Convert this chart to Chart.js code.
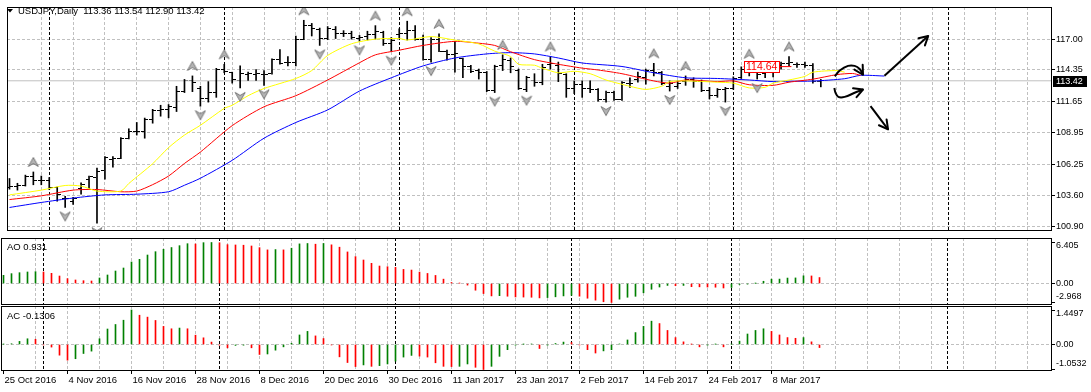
<!DOCTYPE html>
<html>
<head>
<meta charset="utf-8">
<script src="https://cdn.jsdelivr.net/npm/chart.js"></script>
<style>
  html, body { margin: 0; padding: 0; background: #fff; }
  #wrap { position: relative; width: 1091px; height: 392px; overflow: hidden; }
  canvas { position: absolute; left: 0; }
</style>
</head>
<body>
<div id="wrap">
  <canvas id="price" width="1091" height="238" style="top:0px"></canvas>
  <canvas id="ao" width="1091" height="68" style="top:238px"></canvas>
  <canvas id="ac" width="1091" height="86" style="top:306px"></canvas>
</div>
<script>
// values (bar index 0 = 25 Oct 2016)
const symbol = 'USDJPY,Daily';
const dateLabels = ['25 Oct 2016', '4 Nov 2016', '16 Nov 2016', '28 Nov 2016', '8 Dec 2016', '20 Dec 2016',
  '30 Dec 2016', '11 Jan 2017', '23 Jan 2017', '2 Feb 2017', '14 Feb 2017', '24 Feb 2017', '8 Mar 2017'];
const dateIdx = [0, 8, 16, 24, 32, 40, 48, 56, 64, 72, 80, 88, 96];
const separators = [5, 27, 49, 71, 91, 118];

const opens = [104.24,104.38,104.43,105.24,104.84,104.89,104.22,103.27,103.08,104.16,
  104.97,105.11,105.70,106.68,106.78,108.49,109.08,109.03,110.11,110.86,
  110.92,111.14,112.49,113.41,112.76,111.86,112.41,114.38,114.11,113.41,
  113.95,114.00,113.95,114.03,115.24,114.97,114.97,117.00,118.16,117.81,
  117.05,117.81,117.46,117.46,117.08,117.19,117.41,117.59,116.65,117.41,
  117.46,117.73,117.00,115.24,117.00,115.92,115.65,115.30,114.65,114.30,
  114.16,112.59,114.70,115.19,114.30,112.68,113.41,113.30,114.84,114.76,
  113.95,112.76,113.08,112.76,112.68,111.78,112.41,111.78,113.22,113.57,
  113.68,114.30,114.11,112.95,112.95,113.35,113.49,113.35,112.59,112.14,
  112.68,112.76,113.68,114.43,114.11,114.03,114.16,114.70,114.89,114.84,
  114.81,114.76,113.36];
const highs = [105.03,104.62,105.32,105.59,105.24,105.11,104.30,103.49,103.41,104.65,
  105.24,105.92,106.92,106.92,108.54,109.30,109.84,110.22,110.97,111.32,
  111.38,112.95,113.54,113.84,112.95,113.35,114.49,114.84,114.16,114.70,
  114.16,114.38,114.30,115.30,116.11,115.51,117.27,118.62,118.35,117.95,
  118.08,118.08,117.73,117.68,117.32,117.68,118.16,117.68,117.14,117.89,
  118.54,118.16,117.35,117.14,117.46,116.05,116.81,115.38,114.76,114.43,
  114.22,114.76,115.65,115.38,114.43,113.81,114.03,114.84,115.51,115.03,
  114.03,113.41,113.41,113.41,112.76,112.54,112.54,113.35,113.68,114.16,
  114.43,114.92,114.22,113.41,113.41,113.84,113.68,113.49,112.86,112.76,
  112.86,113.76,114.62,114.89,114.30,114.30,114.84,115.03,115.51,114.97,
  115.03,114.89,113.54];
const lows = [104.11,104.03,104.38,104.49,104.49,104.08,103.08,102.54,102.81,103.68,
  104.11,101.19,104.97,106.00,106.73,108.43,108.76,108.49,109.78,110.38,
  110.24,110.78,112.41,112.49,111.24,111.59,112.00,114.11,113.22,112.81,
  113.46,113.46,113.03,114.00,114.84,114.70,114.70,116.95,117.27,116.46,
  116.95,117.05,117.22,117.00,116.81,116.92,117.00,116.46,115.92,117.08,
  116.92,116.92,115.19,115.03,115.92,115.19,114.16,113.68,114.11,113.57,
  112.49,112.41,114.30,114.11,112.68,112.49,112.95,113.08,114.43,113.35,
  112.00,112.32,112.00,112.41,111.68,111.59,111.73,111.73,112.86,113.30,
  113.14,113.84,113.08,112.54,112.76,113.03,112.86,112.49,111.86,112.00,
  111.59,112.68,113.62,113.84,113.57,113.68,113.76,114.43,114.70,114.57,
  114.57,113.22,112.90];
const closes = [104.30,104.43,105.24,104.84,104.89,104.22,103.62,103.30,103.30,104.51,
  105.16,105.65,106.81,106.73,108.43,109.08,109.03,110.11,110.86,110.92,
  111.19,112.49,113.41,113.27,111.86,112.41,114.38,114.24,113.49,114.03,
  114.03,114.05,114.00,115.24,114.92,115.03,117.00,118.16,117.89,117.05,
  117.89,117.46,117.49,117.14,117.14,117.41,117.62,116.65,116.86,117.46,
  117.73,117.00,115.24,117.00,115.97,115.65,115.73,114.65,114.22,114.16,
  112.59,114.65,115.24,114.65,112.76,113.68,113.30,114.57,114.92,114.03,
  112.76,113.08,112.76,112.68,111.78,112.41,111.78,113.27,113.22,113.76,
  114.30,114.11,113.22,113.22,113.22,113.57,113.35,112.59,112.14,112.68,
  112.76,113.62,114.43,114.11,113.95,114.16,114.70,114.89,114.97,114.84,
  114.76,113.35,113.42];

const fractalsUp = [3, 23, 27, 37, 46, 50, 54, 62, 68, 81, 85, 93, 98];
const fractalsDown = [7, 11, 24, 29, 32, 39, 44, 48, 53, 61, 65, 75, 83, 90, 94];

// alligator lines (sampled along the curves)
const jawIdx = [0,4,8,12,16,20,22,24,28,32,36,40,44,48,52,56,60,63,66,69,72,77,81,85,89,93,96,98,101,105,107,110];
const jawVal = [102.54,102.97,103.35,103.62,103.68,103.89,104.45,105.05,106.59,108.49,109.84,110.92,112.54,113.68,114.70,115.38,
  115.73,115.84,115.73,115.38,114.95,114.65,114.11,113.68,113.62,113.49,113.35,113.38,113.40,113.60,113.89,113.83];
const teethIdx = [0,4,8,11,14,16,18,20,22,24,28,32,36,40,44,46,49,52,56,59,61,63,66,69,72,74,77,81,83,85,89,91,93,96,98,101,104,106,107];
const teethVal = [103.22,103.54,104.03,104.08,103.89,103.95,104.50,105.24,106.32,107.30,109.57,111.19,112.14,113.49,114.97,115.65,
  116.05,116.46,116.81,116.65,116.46,115.92,115.24,114.84,114.51,114.35,114.03,113.41,113.22,113.49,113.35,113.41,113.08,113.03,
  113.30,113.56,113.95,114.05,113.89];
const lipsIdx = [0,4,7,9,11,14,15,18,20,22,24,27,28,30,32,36,38,40,43,46,49,50,53,56,59,61,63,64,66,67,69,71,73,75,78,80,82,83,85,89,91,93,95,96,98,100,101,104,105];
const lipsVal = [103.62,104.03,104.43,104.38,103.95,103.95,104.60,106.30,107.68,108.76,109.60,111.05,111.32,112.14,112.76,113.62,
  114.30,115.60,116.60,117.00,117.05,116.92,117.22,116.92,116.59,115.97,115.51,114.84,114.76,114.50,114.11,114.24,114.03,113.49,
  112.95,112.68,112.95,113.35,113.41,113.30,113.22,112.81,112.86,113.22,113.49,113.80,114.16,114.30,114.16];

const ao = [1.28,1.54,1.69,1.80,1.85,1.80,1.59,1.17,0.76,0.55,
  0.44,0.39,0.86,1.33,1.95,2.42,3.36,3.78,4.45,4.97,
  5.34,5.62,5.91,6.22,6.17,6.38,6.405,6.37,6.07,6.02,
  5.98,5.86,5.60,5.25,5.30,5.25,5.51,6.19,6.25,6.14,
  6.25,6.04,5.67,4.93,4.20,3.67,3.15,2.73,2.62,2.52,
  2.20,2.10,1.78,1.57,1.26,0.68,0.16,0.05,-0.25,-1.05,
  -1.57,-1.94,-1.90,-1.99,-2.10,-2.12,-2.15,-2.25,-2.20,-2.08,
  -1.94,-1.85,-1.98,-2.30,-2.60,-2.85,-2.968,-2.45,-2.15,-2.00,
  -1.45,-0.90,-0.55,-0.30,-0.35,-0.30,-0.50,-0.52,-0.55,-0.58,
  -0.70,-0.62,-0.15,-0.10,0.02,0.35,0.67,0.69,0.85,0.87,
  1.20,1.18,0.931];
const ac = [0.01,0.03,0.13,0.24,0.22,-0.02,-0.11,-0.45,-0.66,-0.60,
  -0.38,-0.28,0.24,0.65,0.84,1.02,1.4497,1.23,1.15,1.01,
  0.76,0.66,0.69,0.66,0.39,0.28,0.10,-0.03,-0.14,-0.04,
  -0.03,-0.14,-0.42,-0.40,-0.24,-0.10,0.05,0.40,0.55,0.36,
  0.25,-0.02,-0.52,-0.76,-0.93,-0.86,-0.92,-0.89,-0.82,-0.70,
  -0.53,-0.46,-0.49,-0.53,-0.77,-0.92,-0.93,-0.92,-0.82,-0.96,
  -1.0532,-0.92,-0.50,-0.22,-0.03,0.01,0.02,-0.17,-0.03,0.04,
  0.10,0.08,-0.02,-0.22,-0.36,-0.27,-0.22,0.02,0.19,0.50,
  0.76,0.98,0.88,0.59,0.29,0.11,0.01,-0.10,-0.03,0.01,
  -0.10,0.01,0.14,0.44,0.59,0.66,0.55,0.40,0.29,0.26,
  0.29,0.11,-0.1306];

const priceTicks = [117.00, 114.35, 111.65, 108.95, 106.25, 103.60, 100.90];
const aoTicks = [6.405, 0, -2.968];
const aoTickLabels = ['6.405', '0.00', '-2.968'];
const acTicks = [1.4497, 0, -1.0532];
const acTickLabels = ['1.4497', '0.00', '-1.0532'];

// hand drawn objects on the chart, in bar index / price units
const trendUpIdx = [110, 115.5], trendUpPrice = [113.86, 117.27];
const trendDownIdx = [108.25, 110.45], trendDownPrice = [111.24, 109.25];
const curveHiIdx = [103.75, 104.38, 105.42, 106.25, 106.88, 107.3];
const curveHiPrice = [113.81, 114.30, 114.70, 114.70, 114.43, 113.94];
const curveLoIdx = [103.7, 103.85, 104.2, 105.0, 106.25, 107.3];
const curveLoPrice = [112.80, 112.39, 112.04, 112.04, 112.39, 112.67];
const levelIdx = [92.3, 98.3], levelPrice = 114.64;

// ---- look ----
const FONT = "'Liberation Sans', Arial, sans-serif";
Chart.defaults.font.family = FONT;
Chart.defaults.font.size = 9;
Chart.defaults.color = '#000';
Chart.defaults.animation = false;

const gridColor = '#c0c0c0';
const green = '#008000', red = '#ff0000';
const xMin = -0.3125, xMax = 131.0625;
const last = closes.length - 1;
const none = 'rgba(0,0,0,0)';

const pairs = (xs, ys) => xs.map((x, k) => ({ x, y: Array.isArray(ys) ? ys[k] : ys }));
const upDownColors = vals => vals.map((v, i) => (i === 0 || v > vals[i - 1]) ? green : red);

function xScale(showLabels) {
  const ticks = [];
  if (showLabels) ticks.push(0);
  for (let v = 4; v < xMax; v += 4) ticks.push(v);
  return {
    type: 'linear', min: xMin, max: xMax, offset: false,
    afterBuildTicks: s => { s.ticks = ticks.map(v => ({ value: v })); },
    afterFit: s => { s.height = showLabels ? 21 : 0; },
    grid: {
      offset: false,
      color: c => (c.tick && c.tick.value > 0) ? gridColor : none,
      drawTicks: showLabels, tickLength: 3,
      tickColor: c => (c.tick && dateIdx.includes(c.tick.value)) ? '#000' : none
    },
    border: { display: false, dash: [3, 2] },
    ticks: {
      display: showLabels, autoSkip: false, maxRotation: 0, minRotation: 0,
      align: 'start', padding: 1, labelOffset: 1, font: { size: 9.5 },
      callback: v => { const k = dateIdx.indexOf(v); return k >= 0 ? dateLabels[k] : ''; }
    }
  };
}

function sideScale(min, max, tickVals) {
  return {
    position: 'right', min, max,
    afterBuildTicks: s => { s.ticks = tickVals.map(v => ({ value: v })); },
    afterFit: s => { s.width = 39; },
    grid: { color: c => (c.tick && c.tick.value === 0) ? gridColor : none, tickLength: 3, tickColor: '#000' },
    border: { display: false, dash: [3, 2] },
    ticks: { display: false }
  };
}

// ---- plugins ----
const frame = {
  id: 'frame',
  afterDraw(chart) {
    const { ctx, chartArea: a } = chart;
    ctx.save();
    ctx.strokeStyle = '#000';
    ctx.lineWidth = 1;
    ctx.strokeRect(a.left + 0.5, a.top + 0.5, a.right - a.left - 1, a.bottom - a.top - 1);
    ctx.restore();
  }
};

const periodSeparators = {
  id: 'periodSeparators',
  beforeDatasetsDraw(chart) {
    const { ctx, chartArea: a, scales: { x } } = chart;
    ctx.save();
    ctx.strokeStyle = '#000';
    ctx.lineWidth = 1;
    ctx.setLineDash([3, 2]);
    separators.forEach(i => {
      const px = Math.floor(x.getPixelForValue(i)) + 0.5;
      ctx.beginPath();
      ctx.moveTo(px, a.top);
      ctx.lineTo(px, a.bottom);
      ctx.stroke();
    });
    ctx.restore();
  }
};

const panelTitle = {
  id: 'panelTitle',
  afterDraw(chart, args, opts) {
    const ctx = chart.ctx;
    ctx.save();
    ctx.fillStyle = '#000';
    if (opts.marker) {
      ctx.beginPath();
      ctx.moveTo(7, 9); ctx.lineTo(13, 9); ctx.lineTo(10, 12.5); ctx.closePath();
      ctx.fill();
    }
    ctx.font = '9.5px ' + FONT;
    ctx.textBaseline = 'middle';
    ctx.fillText(opts.text, opts.x, opts.y);
    ctx.restore();
  }
};

const sideLabels = {
  id: 'sideLabels',
  afterDraw(chart, args, opts) {
    const { ctx, chartArea: a, scales: { y } } = chart;
    const shift = [3.5, 0, -6];
    ctx.save();
    ctx.fillStyle = '#000';
    ctx.font = '9px ' + FONT;
    ctx.textBaseline = 'middle';
    opts.values.forEach((v, k) => ctx.fillText(opts.texts[k], a.right + 4, y.getPixelForValue(v) + shift[k]));
    ctx.restore();
  }
};

// open / close ticks of the bar chart
const ohlcTicks = {
  id: 'ohlcTicks',
  beforeDatasetsDraw(chart) {
    const { ctx, chartArea: a, scales: { x, y } } = chart;
    ctx.save();
    ctx.beginPath();
    ctx.rect(a.left, a.top, a.right - a.left, a.bottom - a.top);
    ctx.clip();
    ctx.fillStyle = '#000';
    opens.forEach((o, i) => {
      const px = Math.floor(x.getPixelForValue(i));
      ctx.fillRect(px - 3, Math.floor(y.getPixelForValue(o)), 3, 1);
      ctx.fillRect(px + 1, Math.floor(y.getPixelForValue(closes[i])), 3, 1);
    });
    ctx.restore();
  }
};

const arrowHeads = {
  id: 'arrowHeads',
  afterDatasetsDraw(chart) {
    const ctx = chart.ctx;
    chart.data.datasets.forEach((ds, k) => {
      if (!ds.arrowHead) return;
      const pts = chart.getDatasetMeta(k).data;
      const p = pts[pts.length - 2], q = pts[pts.length - 1];
      const ang = Math.atan2(q.y - p.y, q.x - p.x);
      ctx.save();
      ctx.strokeStyle = '#000';
      ctx.lineWidth = 2;
      ctx.lineCap = 'round';
      ctx.beginPath();
      [-0.5, 0.5].forEach(d => {
        ctx.moveTo(q.x, q.y);
        ctx.lineTo(q.x - 10 * Math.cos(ang + d), q.y - 10 * Math.sin(ang + d));
      });
      ctx.stroke();
      ctx.restore();
    });
  }
};

const levelLabel = {
  id: 'levelLabel',
  afterDatasetsDraw(chart) {
    const { ctx, scales: { x, y } } = chart;
    const px = Math.round(x.getPixelForValue(levelIdx[0]));
    const py = Math.round(y.getPixelForValue(levelPrice));
    const txt = levelPrice.toFixed(2);
    ctx.save();
    ctx.font = '10.5px ' + FONT;
    const w = Math.ceil(ctx.measureText(txt).width) + 4;
    ctx.fillStyle = '#fff';
    ctx.fillRect(px, py - 6, w, 12);
    ctx.strokeStyle = red;
    ctx.lineWidth = 1;
    ctx.strokeRect(px + 0.5, py - 5.5, w - 1, 11);
    ctx.fillStyle = red;
    ctx.textBaseline = 'middle';
    ctx.fillText(txt, px + 2, py + 0.5);
    ctx.restore();
  }
};

const lastPrice = {
  id: 'lastPrice',
  afterDraw(chart) {
    const { ctx, chartArea: a, scales: { y } } = chart;
    const py = Math.round(y.getPixelForValue(closes[last]));
    ctx.save();
    ctx.fillStyle = '#000';
    ctx.fillRect(a.right + 1, py - 5, 34, 11);
    ctx.fillStyle = '#fff';
    ctx.font = '9px ' + FONT;
    ctx.textBaseline = 'middle';
    ctx.fillText(closes[last].toFixed(2), a.right + 4, py + 0.5);
    ctx.restore();
  }
};

function fractalImage(up) {
  const c = document.createElement('canvas');
  c.width = 12; c.height = 40;
  const g = c.getContext('2d');
  const cx = 6, cy = up ? 10 : 29, s = up ? 1 : -1;
  g.beginPath();
  g.moveTo(cx, cy - 4.5 * s);
  g.lineTo(cx + 5, cy + 4.5 * s);
  g.lineTo(cx, cy + 1.5 * s);
  g.lineTo(cx - 5, cy + 4.5 * s);
  g.closePath();
  g.fillStyle = '#b4b4b4';
  g.fill();
  g.strokeStyle = '#777';
  g.lineWidth = 1;
  g.stroke();
  return c;
}

const lineSet = (data, color, width, extra) => Object.assign({
  type: 'line', data, borderColor: color, borderWidth: width, pointRadius: 0, tension: 0.25, fill: false
}, extra || {});

// ---- price panel ----
new Chart(document.getElementById('price'), {
  type: 'bar',
  data: {
    datasets: [
      lineSet(pairs([xMin, xMax], closes[last]), gridColor, 1, { order: 8, tension: 0 }),
      {
        type: 'bar', data: highs.map((h, i) => ({ x: i, y: [lows[i], h] })),
        backgroundColor: '#000', borderWidth: 0, barThickness: 1, order: 6
      },
      lineSet(pairs(jawIdx, jawVal), '#0000ff', 1, { order: 5 }),
      lineSet(pairs(teethIdx, teethVal), red, 1, { order: 4 }),
      lineSet(pairs(lipsIdx, lipsVal), '#ffff00', 1, { order: 3 }),
      lineSet(pairs(levelIdx, levelPrice), red, 1, { order: 2, tension: 0 }),
      {
        type: 'scatter', data: fractalsUp.map(i => ({ x: i, y: highs[i] })),
        pointStyle: fractalImage(true), pointRadius: 6, clip: 0, order: 1
      },
      {
        type: 'scatter', data: fractalsDown.map(i => ({ x: i, y: lows[i] })),
        pointStyle: fractalImage(false), pointRadius: 6, clip: 0, order: 1
      },
      lineSet(pairs(curveHiIdx, curveHiPrice), '#000', 2, { order: 0, tension: 0.4, arrowHead: true }),
      lineSet(pairs(curveLoIdx, curveLoPrice), '#000', 2, { order: 0, tension: 0.4, arrowHead: true }),
      lineSet(pairs(trendUpIdx, trendUpPrice), '#000', 2, { order: 0, tension: 0, arrowHead: true }),
      lineSet(pairs(trendDownIdx, trendDownPrice), '#000', 2, { order: 0, tension: 0, arrowHead: true })
    ]
  },
  options: {
    responsive: false,
    events: [],
    layout: { padding: { left: 1, top: 1, right: 0, bottom: 0 } },
    plugins: {
      legend: { display: false },
      tooltip: { enabled: false },
      panelTitle: {
        marker: true, x: 18, y: 11,
        text: symbol + '  ' + [opens, highs, lows, closes].map(a => a[last].toFixed(2)).join(' ')
      }
    },
    scales: {
      x: xScale(false),
      y: {
        position: 'right', min: 100.519, max: 119.76,
        afterBuildTicks: s => { s.ticks = priceTicks.map(v => ({ value: v })); },
        afterFit: s => { s.width = 39; },
        grid: { color: gridColor, tickLength: 3, tickColor: '#000' },
        border: { display: false, dash: [3, 2] },
        ticks: { padding: 1, font: { size: 9 }, callback: v => v.toFixed(2) }
      }
    }
  },
  plugins: [periodSeparators, ohlcTicks, arrowHeads, levelLabel, frame, panelTitle, lastPrice]
});

// ---- AO panel ----
new Chart(document.getElementById('ao'), {
  type: 'bar',
  data: {
    datasets: [{
      data: ao.map((v, i) => ({ x: i, y: v })),
      backgroundColor: upDownColors(ao), borderWidth: 0, barThickness: 1
    }]
  },
  options: {
    responsive: false,
    events: [],
    layout: { padding: { left: 1, top: 0, right: 0, bottom: 1 } },
    plugins: {
      legend: { display: false },
      tooltip: { enabled: false },
      panelTitle: { text: 'AO ' + ao[last].toFixed(3), x: 7, y: 9.5 },
      sideLabels: { values: aoTicks, texts: aoTickLabels }
    },
    scales: { x: xScale(false), y: sideScale(-3.359, 7.108, aoTicks) }
  },
  plugins: [periodSeparators, frame, panelTitle, sideLabels]
});

// ---- AC panel ----
new Chart(document.getElementById('ac'), {
  type: 'bar',
  data: {
    datasets: [{
      data: ac.map((v, i) => ({ x: i, y: v })),
      backgroundColor: upDownColors(ac), borderWidth: 0, barThickness: 1
    }]
  },
  options: {
    responsive: false,
    events: [],
    layout: { padding: { left: 1, top: 0, right: 0, bottom: 0 } },
    plugins: {
      legend: { display: false },
      tooltip: { enabled: false },
      panelTitle: { text: 'AC ' + ac[last].toFixed(4), x: 7, y: 10 },
      sideLabels: { values: acTicks, texts: acTickLabels }
    },
    scales: { x: xScale(true), y: sideScale(-1.116, 1.618, acTicks) }
  },
  plugins: [periodSeparators, frame, panelTitle, sideLabels]
});
</script>
</body>
</html>
